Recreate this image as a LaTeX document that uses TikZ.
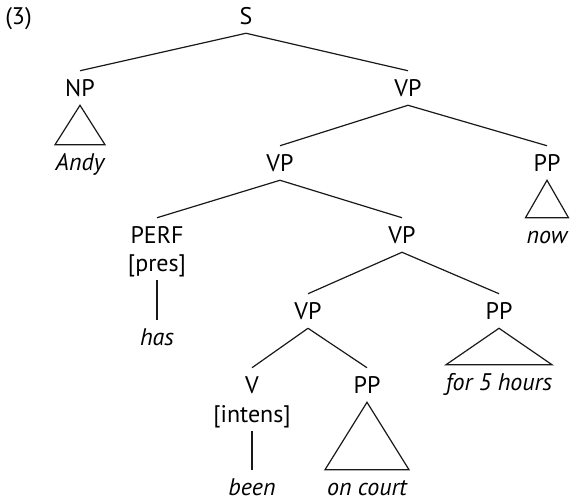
\documentclass[tikz,border=0pt]{standalone}
\usepackage{fontspec}
\setmainfont{PT Sans}
\usetikzlibrary{calc}
\begin{document}
\begin{tikzpicture}[x=0.75pt,y=-0.75pt,
  lab/.style={inner sep=0pt,minimum height=25.5pt,text height=12.6pt,text depth=0pt,font=\fontsize{18}{21}\selectfont},
  leaf/.style={lab,font=\fontsize{18}{21}\selectfont\itshape},
  edge/.style={line width=0.9pt,black!90}]
\useasboundingbox (0,0) rectangle (571,503);
\node[lab,anchor=west] (num) at (5,16) {(3)};
\node[lab] (S) at (246,16) {S};
\node[lab] (NP) at (80,88) {NP};
\node[leaf] (andy) at (80,162) {Andy};
\node[lab] (VPa) at (408,88) {VP};
\node[lab] (VPb) at (280,163) {VP};
\node[lab] (PPa) at (547,163) {PP};
\node[leaf] (now) at (547,235) {now};
\node[lab] (perf) at (157,235) {PERF};
\node[lab] (pres) at (157,263) {[pres]};
\node[leaf] (has) at (157,337) {has};
\node[lab] (VPc) at (402,235) {VP};
\node[lab] (VPd) at (308,311) {VP};
\node[lab] (PPb) at (499,311) {PP};
\node[leaf] (for) at (499,382) {for 5 hours};
\node[lab] (V) at (252,385) {V};
\node[lab] (intens) at (252,414) {[intens]};
\node[leaf] (been) at (252,487) {been};
\node[lab] (PPc) at (367,385) {PP};
\node[leaf] (court) at (367,487) {on court};
\draw[edge] (S.south) -- (NP.north);
\draw[edge] (S.south) -- (VPa.north);
\draw[edge] (VPa.south) -- (VPb.north);
\draw[edge] (VPa.south) -- (PPa.north);
\draw[edge] (VPb.south) -- (perf.north);
\draw[edge] (VPb.south) -- (VPc.north);
\draw[edge] (pres.south) -- (has.north);
\draw[edge] (VPc.south) -- (VPd.north);
\draw[edge] (VPc.south) -- (PPb.north);
\draw[edge] (VPd.south) -- (V.north);
\draw[edge] (VPd.south) -- (PPc.north);
\draw[edge] (intens.south) -- (been.north);
\draw[edge] (NP.south) -- ($(andy.north)+(-25,0)$) -- ($(andy.north)+(25,0)$) -- cycle;
\draw[edge] (PPa.south) -- ($(now.north)+(-21.5,0)$) -- ($(now.north)+(21.5,0)$) -- cycle;
\draw[edge] (PPb.south) -- ($(for.north)+(-53,0)$) -- ($(for.north)+(53,0)$) -- cycle;
\draw[edge] (PPc.south) -- ($(court.north)+(-42,0)$) -- ($(court.north)+(42,0)$) -- cycle;
\end{tikzpicture}
\end{document}
